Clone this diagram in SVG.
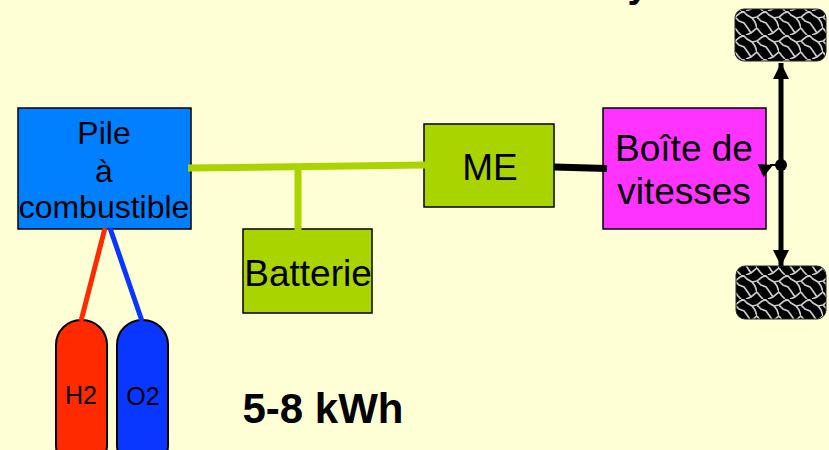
<svg xmlns="http://www.w3.org/2000/svg" width="829" height="450" viewBox="0 0 829 450">
<style>
text{font-family:"Liberation Sans",Arial,sans-serif;fill:#000;text-anchor:middle}
.box{stroke:#000;stroke-width:1.5}
.l{font-size:37px}
.p{font-size:32px}
.tank{stroke:#000;stroke-width:2}
.tyre{fill:url(#tread);stroke:#222;stroke-width:1}
</style>
<defs>
<pattern id="tread" width="22" height="24" patternUnits="userSpaceOnUse" x="735" y="11">
<rect width="22" height="24" fill="#000"/>
<path d="M0 6L5 2L9 1L12 4L17 7L20 11L22 17M0 17L3 21L6 24M0 6L4 10L9 12L12 16L16 22M22 6L17 7M22 17L16 22L11 24M6 0L9 1" fill="none" stroke="#ccc" stroke-width="1.700"/>
</pattern>
<marker id="ah" viewBox="0 0 10 10" refX="10" refY="5" markerWidth="16" markerHeight="16" markerUnits="userSpaceOnUse" orient="auto"><path d="M0 0L10 5L0 10z" fill="#000"/></marker>
</defs>
<rect width="829" height="450" fill="#ffffd6"/>
<text x="638" y="-3" style="font-size:38px;font-weight:bold">y</text>
<g id="pile"><rect class="box" x="18" y="108" width="173" height="121" fill="#0080ff"/>
<text class="p" x="104" y="144">Pile</text><text class="p" x="104" y="182">à</text><text class="p" x="104" y="218">combustible</text></g>
<g id="batterie"><rect class="box" x="243" y="229" width="129" height="84" fill="#aad400"/><text class="l" x="308" y="286">Batterie</text></g>
<g id="me"><rect class="box" x="424" y="124" width="130" height="83" fill="#aad400"/><text class="l" x="490" y="180">ME</text></g>
<g id="boite"><rect class="box" x="603" y="108" width="163" height="121" fill="#ff33ff"/><text class="l" x="684" y="161">Boîte de</text><text class="l" x="684" y="204">vitesses</text></g>
<g id="h2"><rect class="tank" x="56" y="320" width="51" height="150" rx="25" fill="#ff2a00"/><text x="81" y="404" style="font-size:25px">H2</text></g>
<g id="o2"><rect class="tank" x="117" y="320" width="51" height="150" rx="25" fill="#0a37ff"/><text x="143" y="405" style="font-size:25px">O2</text></g>
<g id="roue1"><rect class="tyre" x="735" y="9" width="91" height="52" rx="9"/></g>
<g id="roue2"><rect class="tyre" x="736" y="266" width="90" height="53" rx="9"/></g>
<g id="kwh"><text x="323" y="423" style="font-size:42px;font-weight:bold">5-8 kWh</text></g>
<g id="connectors">
<path d="M188 168L425 165" stroke="#aad400" stroke-width="7" fill="none"/>
<path d="M298 167V230" stroke="#aad400" stroke-width="7" fill="none"/>
<path d="M554 167L607 168.500" stroke="#000" stroke-width="7" fill="none"/>
<path d="M105 228L81 321" stroke="#ff2a00" stroke-width="5" fill="none"/>
<path d="M110 228L142 321" stroke="#0a37ff" stroke-width="5" fill="none"/>
<path d="M781 165V63" stroke="#000" stroke-width="5" fill="none" marker-end="url(#ah)"/>
<path d="M781 165V266" stroke="#000" stroke-width="5" fill="none" marker-end="url(#ah)"/>
<path d="M781 165L770 165" stroke="#000" stroke-width="2" fill="none"/>
<path d="M757.500 164L773 165L763.500 177z" fill="#000"/>
<circle cx="781" cy="165" r="6" fill="#000"/>
</g>
</svg>
